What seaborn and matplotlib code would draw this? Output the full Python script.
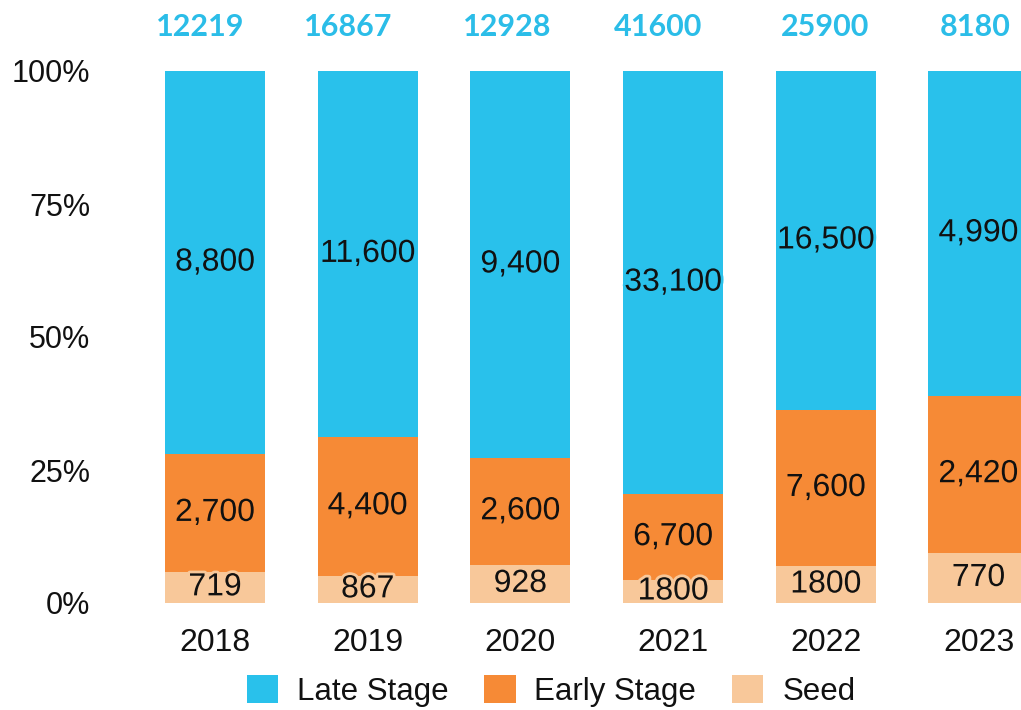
import numpy as np
import pandas as pd
import matplotlib
matplotlib.use("Agg")
import matplotlib.pyplot as plt
import matplotlib.patheffects as pe
from matplotlib.patches import Patch
import seaborn as sns

years = ["2018", "2019", "2020", "2021", "2022", "2023"]
seed = [719, 867, 928, 1800, 1800, 770]
early = [2700, 4400, 2600, 6700, 7600, 2420]
late = [8800, 11600, 9400, 33100, 16500, 4990]
totals = [12219, 16867, 12928, 41600, 25900, 8180]
series_names = ["Late Stage", "Early Stage", "Seed"]
ytick_labels = ["0%", "25%", "50%", "75%", "100%"]

# horizontal nudges (pixels) of the total labels as placed in the original
total_nudge_px = [-15, -20, -13, -15, -1, -3]

c_late = "#29C1EB"
c_early = "#F68A36"
c_seed = "#F8C89A"
c_total = "#2BBDE8"

sns.set_theme(style="white")
plt.rcParams["font.family"] = ["Liberation Sans", "DejaVu Sans"]

seed_a = np.array(seed, float)
early_a = np.array(early, float)
late_a = np.array(late, float)
tot = seed_a + early_a + late_a
p_seed = seed_a / tot
p_early = early_a / tot
p_late = late_a / tot

df = pd.DataFrame({
    "year": years,
    "top": p_seed + p_early + p_late,
    "mid": p_seed + p_early,
    "low": p_seed,
})

W, H = 1021, 710
fig = plt.figure(figsize=(W / 100, H / 100), dpi=100)
ax_left_px, ax_bottom_px, ax_top_px = 110, 603, 71
ax = fig.add_axes([ax_left_px / W, (H - ax_bottom_px) / H, 1 - ax_left_px / W,
                   (ax_bottom_px - ax_top_px) / H])

bw = 0.655
sns.barplot(data=df, x="year", y="top", color=c_late, width=bw, ax=ax,
            saturation=1, linewidth=0)
sns.barplot(data=df, x="year", y="mid", color=c_early, width=bw, ax=ax,
            saturation=1, linewidth=0)
sns.barplot(data=df, x="year", y="low", color=c_seed, width=bw, ax=ax,
            saturation=1, linewidth=0)

step = 152.7
x0_px = 215
ax.set_xlim((ax_left_px - x0_px) / step, (W - x0_px) / step)
ax.set_ylim(0, 1)

lab_fs = 23
for i in range(len(years)):
    ax.text(i, p_seed[i] / 2, f"{seed[i]}", ha="center", va="center",
            fontsize=lab_fs, color="#111111", clip_on=False,
            path_effects=[pe.withStroke(linewidth=4, foreground=c_seed)])
    ax.text(i, p_seed[i] + p_early[i] / 2, f"{early[i]:,}", ha="center",
            va="center", fontsize=lab_fs, color="#111111", clip_on=False,
            path_effects=[pe.withStroke(linewidth=4, foreground=c_early)])
    ax.text(i, p_seed[i] + p_early[i] + p_late[i] / 2, f"{late[i]:,}",
            ha="center", va="center", fontsize=lab_fs, color="#111111",
            clip_on=False,
            path_effects=[pe.withStroke(linewidth=4, foreground=c_late)])
    ax.annotate(f"{totals[i]}", xy=(i, 1), xytext=(total_nudge_px[i], 44),
                textcoords="offset pixels",
                ha="center", va="center", fontsize=22, fontweight="bold",
                color=c_total, family=["Lato", "DejaVu Sans"],
                annotation_clip=False)

ax.set_yticks([0, 0.25, 0.5, 0.75, 1.0])
ax.set_yticklabels(ytick_labels)
ax.tick_params(axis="y", length=0, pad=14, labelsize=22, labelcolor="#111111")
ax.tick_params(axis="x", length=0, pad=18, labelsize=23, labelcolor="#111111")
ax.set_xlabel("")
ax.set_ylabel("")
for s in ax.spines.values():
    s.set_visible(False)
ax.grid(False)

handles = [Patch(facecolor=c, edgecolor="none") for c in (c_late, c_early, c_seed)]
fig.legend(handles, series_names, loc="center", bbox_to_anchor=(551 / W, 1 - 691 / H),
           ncol=3, frameon=False, fontsize=22.5, handlelength=1.0, handleheight=1.0,
           handletextpad=0.6, columnspacing=1.15, labelcolor="#111111")

fig.savefig("out.png", dpi=100)
